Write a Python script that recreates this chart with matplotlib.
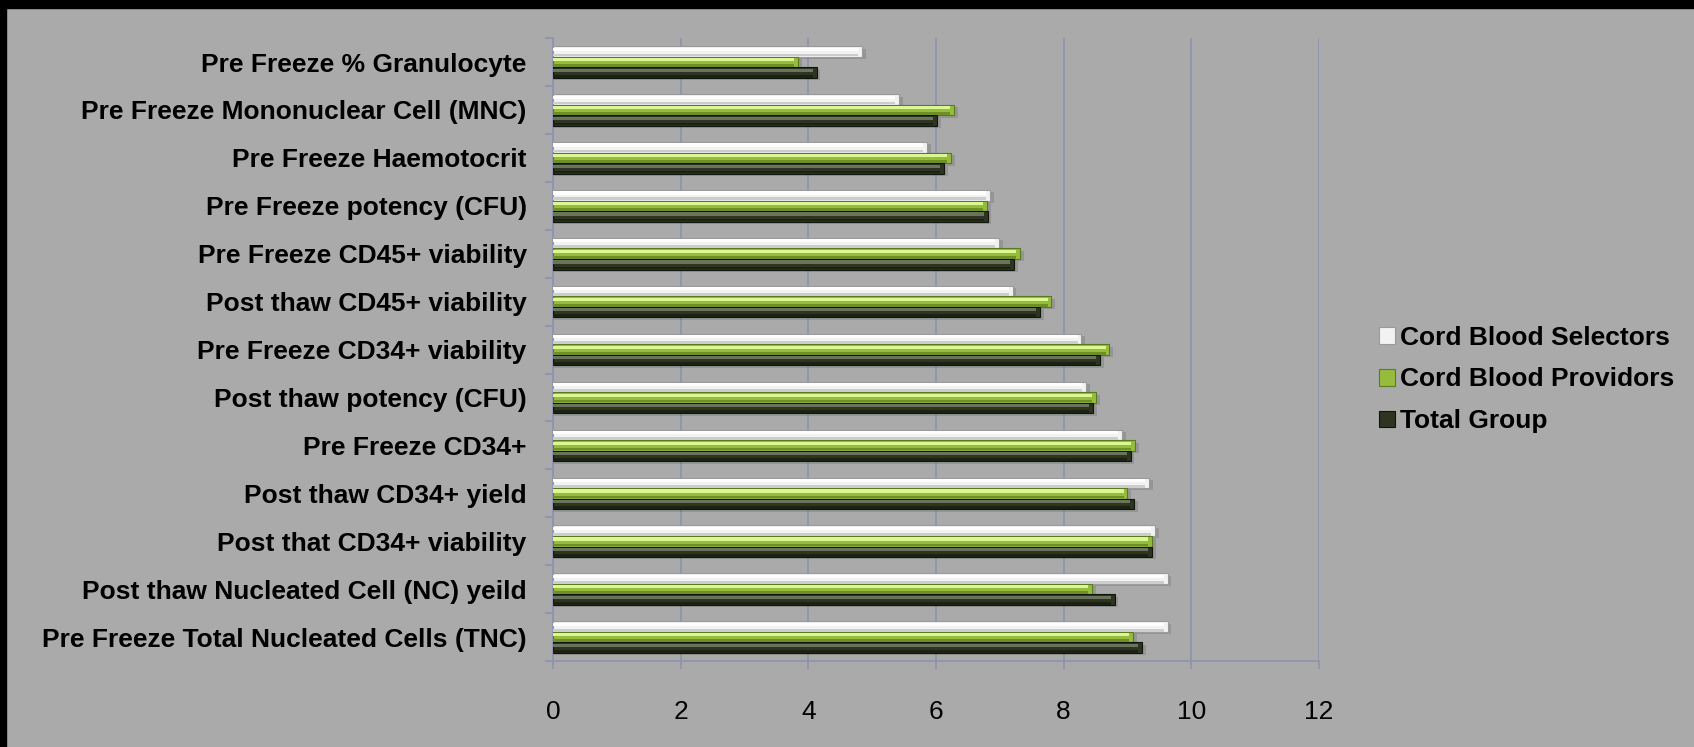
import numpy as np
import matplotlib.pyplot as plt
from matplotlib.patches import Rectangle

# categories listed top to bottom
categories = [
    "Pre Freeze % Granulocyte",
    "Pre Freeze Mononuclear Cell (MNC)",
    "Pre Freeze Haemotocrit",
    "Pre Freeze potency (CFU)",
    "Pre Freeze CD45+ viability",
    "Post thaw CD45+ viability",
    "Pre Freeze CD34+ viability",
    "Post thaw potency (CFU)",
    "Pre Freeze CD34+",
    "Post thaw CD34+ yield",
    "Post that CD34+ viability",
    "Post thaw Nucleated Cell (NC) yeild",
    "Pre Freeze Total Nucleated Cells (TNC)",
]
selectors = [4.84, 5.42, 5.86, 6.85, 6.99, 7.20, 8.28, 8.35, 8.92, 9.34, 9.43, 9.63, 9.63]
providors = [3.84, 6.28, 6.24, 6.80, 7.32, 7.81, 8.72, 8.51, 9.12, 9.00, 9.39, 8.45, 9.09]
total = [4.13, 6.02, 6.13, 6.81, 7.22, 7.63, 8.57, 8.46, 9.05, 9.10, 9.39, 8.80, 9.23]
x_ticks = [0, 2, 4, 6, 8, 10, 12]

BG = "#aaaaaa"
GRID = "#8a93b0"

# (base, highlight, lower shade, end cap edge)
styles = {
    "Cord Blood Selectors": ("#f2f2f2", "#ffffff", "#cdcdcd", "#9a9a9a"),
    "Cord Blood Providors": ("#96bc3e", "#dbf794", "#6e8f27", "#5a7a20"),
    "Total Group": ("#2d3522", "#6a735c", "#1b2113", "#10140b"),
}
series = [("Cord Blood Selectors", selectors),
          ("Cord Blood Providors", providors),
          ("Total Group", total)]

fig = plt.figure(figsize=(16.94, 7.47), dpi=100, facecolor=BG)
ax = fig.add_axes([0.3265, 0.115, 0.452, 0.834], facecolor=BG)

y = np.arange(len(categories))
h = 0.22
offsets = [-h, 0.0, h]

for (name, vals), off in zip(series, offsets):
    base, hi, lo, edge = styles[name]
    yy = y + off
    vals = np.array(vals)
    # soft drop shadow
    ax.barh(yy + 0.05, vals + 0.06, height=h, color="#000000",
            alpha=0.12, linewidth=0, zorder=2)
    ax.barh(yy, vals, height=h, color=base, edgecolor=edge, linewidth=0.8,
            zorder=3, label=name)
    # bevel: light band near the top, darker band near the bottom
    ax.barh(yy - 0.22 * h, vals - 0.06, height=0.3 * h, color=hi,
            linewidth=0, zorder=4)
    ax.barh(yy + 0.34 * h, vals - 0.06, height=0.26 * h, color=lo,
            linewidth=0, zorder=4)

ax.set_xlim(0, 12)
ax.set_ylim(len(categories) - 0.5, -0.5)
ax.set_xticks(x_ticks)
ax.set_xticklabels([str(t) for t in x_ticks], fontsize=19,
                   family="Liberation Sans")
ax.set_yticks(y)
ax.set_yticklabels(categories, fontsize=19, fontweight="bold",
                   family="Liberation Sans")
ax.set_yticks(np.arange(-0.5, len(categories)), minor=True)

ax.tick_params(axis="y", which="major", length=0, pad=19)
ax.tick_params(axis="y", which="minor", length=6, color=GRID, width=1.2)
ax.tick_params(axis="x", which="major", length=6, color=GRID, width=1.2,
               pad=22)

ax.grid(axis="x", color=GRID, linewidth=1.2, zorder=1)
ax.set_axisbelow(True)
for side in ["top", "right"]:
    ax.spines[side].set_visible(False)
for side in ["left", "bottom"]:
    ax.spines[side].set_color(GRID)
    ax.spines[side].set_linewidth(1.2)

leg = fig.legend(loc="center left", bbox_to_anchor=(0.8, 0.492),
                 frameon=False, handlelength=0.6, handleheight=0.6,
                 handletextpad=0.2, labelspacing=0.68,
                 prop={"family": "Liberation Sans", "weight": "bold",
                       "size": 19})

# black frame along the top and left edges
fig.add_artist(Rectangle((0, 1 - 8 / 747), 1, 8 / 747, transform=fig.transFigure,
                         color="black", zorder=10))
fig.add_artist(Rectangle((0, 0), 6 / 1694, 1, transform=fig.transFigure,
                         color="black", zorder=10))

fig.savefig("out.png", dpi=100, facecolor=BG)
